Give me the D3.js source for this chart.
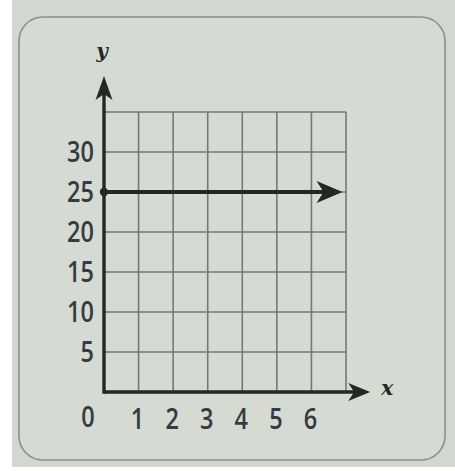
<!DOCTYPE html>
<html>
<head>
<meta charset="utf-8">
<script src="https://cdn.jsdelivr.net/npm/d3@7"></script>
<style>
  html, body { margin: 0; padding: 0; background: #ffffff; }
  svg { display: block; }
</style>
</head>
<body>
<svg id="chart" width="455" height="471"></svg>
<script>
// Axis ticks and labels
const xTickValues = [1, 2, 3, 4, 5, 6];
const xTickLabels = ["1", "2", "3", "4", "5", "6"];
const yTickValues = [5, 10, 15, 20, 25, 30];
const yTickLabels = ["5", "10", "15", "20", "25", "30"];
const originLabel = "0";
const xAxisName = "x";
const yAxisName = "y";

// Grid extent in data units
const xGridMax = 7;
const yGridMax = 35;

// Horizontal ray y = 25, starting at x = 0
const rayX = [0, 6.9];
const rayY = [25, 25];

const svg = d3.select("#chart");
const W = 455, H = 471;

const x = d3.scaleLinear().domain([0, xGridMax]).range([104, 346]);
const y = d3.scaleLinear().domain([0, yGridMax]).range([392, 112]);

// Page backdrop: white strip at left, grey-green card
svg.append("rect").attr("x", 0).attr("y", 0).attr("width", W).attr("height", H).attr("fill", "#ffffff");
svg.append("rect").attr("x", 12).attr("y", 0).attr("width", W - 12).attr("height", H - 4).attr("fill", "#d2d7cf");
svg.append("rect")
  .attr("x", 19).attr("y", 17).attr("width", 426).attr("height", 443)
  .attr("rx", 24).attr("ry", 24)
  .attr("fill", "#d5dad2").attr("stroke", "#8a8f88").attr("stroke-width", 1.6);

const ink = "#232725";
const gridColor = "#737a73";

// Grid lines
const grid = svg.append("g");
grid.selectAll("line.v")
  .data(d3.range(1, xGridMax + 1))
  .join("line")
  .attr("x1", d => x(d)).attr("x2", d => x(d))
  .attr("y1", y(0)).attr("y2", y(yGridMax))
  .attr("stroke", gridColor).attr("stroke-width", 1.6);
grid.selectAll("line.h")
  .data(d3.range(5, yGridMax + 1, 5))
  .join("line")
  .attr("x1", x(0)).attr("x2", x(xGridMax))
  .attr("y1", d => y(d)).attr("y2", d => y(d))
  .attr("stroke", gridColor).attr("stroke-width", 1.6);

// Arrowhead path pointing along +x, tip at origin
function arrowHead(len, half, notch) {
  return `M0,0 L${-len},${-half} L${-len + notch},0 L${-len},${half} Z`;
}

// Axes with arrowheads
const xAxisEnd = xGridMax + 0.7;
const yAxisEnd = yGridMax + 4.5;
svg.append("line")
  .attr("x1", x(0)).attr("y1", y(0)).attr("x2", x(xAxisEnd) - 10).attr("y2", y(0))
  .attr("stroke", ink).attr("stroke-width", 3.4);
svg.append("path")
  .attr("d", arrowHead(22, 9, 6))
  .attr("transform", `translate(${x(xAxisEnd)},${y(0)})`)
  .attr("fill", ink);
svg.append("line")
  .attr("x1", x(0)).attr("y1", y(0) + 1.7).attr("x2", x(0)).attr("y2", y(yAxisEnd) + 10)
  .attr("stroke", ink).attr("stroke-width", 3.4);
svg.append("path")
  .attr("d", arrowHead(24, 8.5, 6))
  .attr("transform", `translate(${x(0)},${y(yAxisEnd)}) rotate(-90)`)
  .attr("fill", ink);

// The ray
const rayPts = rayX.map((d, i) => [x(d), y(rayY[i])]);
svg.append("line")
  .attr("x1", rayPts[0][0]).attr("y1", rayPts[0][1])
  .attr("x2", rayPts[1][0] - 10).attr("y2", rayPts[1][1])
  .attr("stroke", ink).attr("stroke-width", 3.8);
svg.append("path")
  .attr("d", arrowHead(26, 11, 7))
  .attr("transform", `translate(${rayPts[1][0]},${rayPts[1][1]})`)
  .attr("fill", ink);
svg.append("circle")
  .attr("cx", rayPts[0][0]).attr("cy", rayPts[0][1]).attr("r", 4.2)
  .attr("fill", ink);

// Tick labels: narrowed sans digits
const labelFont = "'Open Sans', 'Noto Sans', sans-serif";
const labelColor = "#363b42";
const squeeze = 0.84;
function numLabel(g, px, py, anchor, txt) {
  g.append("text")
    .attr("transform", `translate(${px},${py}) scale(${squeeze},1)`)
    .attr("text-anchor", anchor)
    .attr("font-family", labelFont)
    .attr("font-weight", 600)
    .attr("font-size", 28)
    .attr("fill", labelColor)
    .text(txt);
}

const yLab = svg.append("g");
yTickValues.forEach((d, i) => numLabel(yLab, x(0) - 10, y(d) + 10, "end", yTickLabels[i]));

const xLab = svg.append("g");
xTickValues.forEach((d, i) => numLabel(xLab, x(d) - 1, y(0) + 37, "middle", xTickLabels[i]));
numLabel(xLab, x(0) - 16, y(0) + 35, "middle", originLabel);

// Axis names
svg.append("text")
  .attr("x", x(xAxisEnd) + 17).attr("y", y(0) + 3)
  .attr("text-anchor", "middle")
  .attr("font-family", "'DejaVu Serif', 'Liberation Serif', serif")
  .attr("font-style", "italic").attr("font-weight", "bold")
  .attr("font-size", 20)
  .attr("fill", ink)
  .text(xAxisName);
svg.append("text")
  .attr("x", x(0) - 2).attr("y", y(yAxisEnd) - 18)
  .attr("text-anchor", "middle")
  .attr("font-family", "'DejaVu Serif', 'Liberation Serif', serif")
  .attr("font-style", "italic").attr("font-weight", "bold")
  .attr("font-size", 20)
  .attr("fill", ink)
  .text(yAxisName);
</script>
</body>
</html>
